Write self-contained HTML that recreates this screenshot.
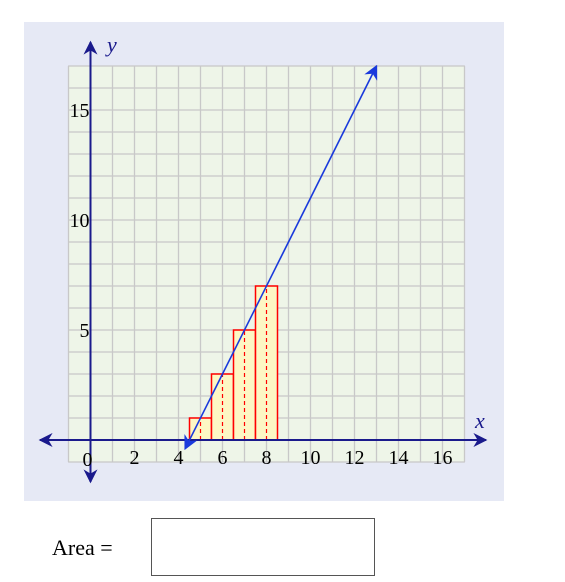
<!DOCTYPE html>
<html><head><meta charset="utf-8"><style>
body{margin:0;background:#fff;width:565px;height:582px;overflow:hidden;font-family:"Liberation Serif",serif}
</style></head><body>
<svg width="565" height="582" style="position:absolute;left:0;top:0">
<rect x="24" y="22" width="480" height="479" fill="#e6e9f5"/>
<g id="grid"></g><g id="rects"></g><g id="axes"></g><g id="labels"></g>
<text x="52" y="555" font-size="22">Area =</text>
</svg>
<div contenteditable="true" style="position:absolute;left:151px;top:518px;width:222px;height:56px;border:1px solid #555;background:#fff"></div>
<script>
const ox=90.5, oy=440, u=22;
const xTicks=[2,4,6,8,10,12,14,16];
const yTicks=[5,10,15];
const rectMids=[5,6,7,8];
const rectHeights=[1,3,5,7];
const rectWidth=1;
const lineStart=[4.3,-0.4];
const lineEnd=[13,17];
const X=v=>ox+v*u, Y=v=>oy-v*u;
const NS="http://www.w3.org/2000/svg";
function mk(p,tag,at){const e=document.createElementNS(NS,tag);for(const k in at)e.setAttribute(k,at[k]);p.appendChild(e);return e;}
const g=document.getElementById('grid');
const bg=mk(g,'rect',{x:X(-1),y:Y(17),width:18*u,height:18*u,fill:'#eef5e8',stroke:'#c8c8c8'});


for(let i=-1;i<=17;i++){
 const l1=mk(g,'line',{x1:X(i),x2:X(i),y1:Y(-1),y2:Y(17),stroke:'#c8c8c8','stroke-width':1.3});
 
 
 const l2=mk(g,'line',{y1:Y(i),y2:Y(i),x1:X(-1),x2:X(17),stroke:'#c8c8c8','stroke-width':1.3});
 
 
}
const rg=document.getElementById('rects');
rectMids.forEach((m,i)=>{
 const r=mk(rg,'rect',{x:X(m-rectWidth/2),y:Y(rectHeights[i]),width:rectWidth*u,height:rectHeights[i]*u,fill:'#fdf7c4',stroke:'#ff0000','stroke-width':1.5});
 
 
 const d=mk(rg,'line',{x1:X(m),x2:X(m),y1:Y(0),y2:Y(rectHeights[i]),stroke:'#ff0000','stroke-width':1.2,'stroke-dasharray':'4,3'});
 
 
});
const a=document.getElementById('axes');
mk(a,'defs',{}).innerHTML='<marker id="ah" viewBox="0 0 10 10" refX="9" refY="5" markerWidth="7" markerHeight="7" orient="auto-start-reverse"><path d="M0,0L10,5L0,10L3,5z" fill="#1a1a8c"/></marker><marker id="bh" viewBox="0 0 10 10" refX="9" refY="5" markerWidth="9" markerHeight="9" orient="auto-start-reverse"><path d="M0,0L10,5L0,10L3,5z" fill="#1a3adc"/></marker>';
const xa=mk(a,'line',{x1:40,x2:486,y1:oy,y2:oy,stroke:'#1a1a8c','stroke-width':2,'marker-start':'url(#ah)','marker-end':'url(#ah)'});


const ya=mk(a,'line',{x1:ox,x2:ox,y1:482,y2:42,stroke:'#1a1a8c','stroke-width':2,'marker-start':'url(#ah)','marker-end':'url(#ah)'});


const fl=mk(a,'line',{x1:X(lineStart[0]),y1:Y(lineStart[1]),x2:X(lineEnd[0]),y2:Y(lineEnd[1]),stroke:'#1a3adc','stroke-width':1.6,'marker-start':'url(#bh)','marker-end':'url(#bh)'});


const lb=document.getElementById('labels');
xTicks.forEach(t=>{const e=mk(lb,'text',{x:X(t),y:oy+24,'font-size':20,'text-anchor':'middle'});e.textContent=t;
 
 });
yTicks.forEach(t=>{const e=mk(lb,'text',{x:ox-1,y:Y(t)+7,'font-size':20,'text-anchor':'end'});e.textContent=t;
 
 });
const z=mk(lb,'text',{x:ox-3,y:oy+26,'font-size':20,'text-anchor':'middle'});z.textContent='0';


const xl=mk(lb,'text',{x:475,y:428,'font-size':22,'font-style':'italic',fill:'#1a1a8c'});xl.textContent='x';


const yl=mk(lb,'text',{x:107,y:52,'font-size':22,'font-style':'italic',fill:'#1a1a8c'});yl.textContent='y';


</script>
</body></html>
